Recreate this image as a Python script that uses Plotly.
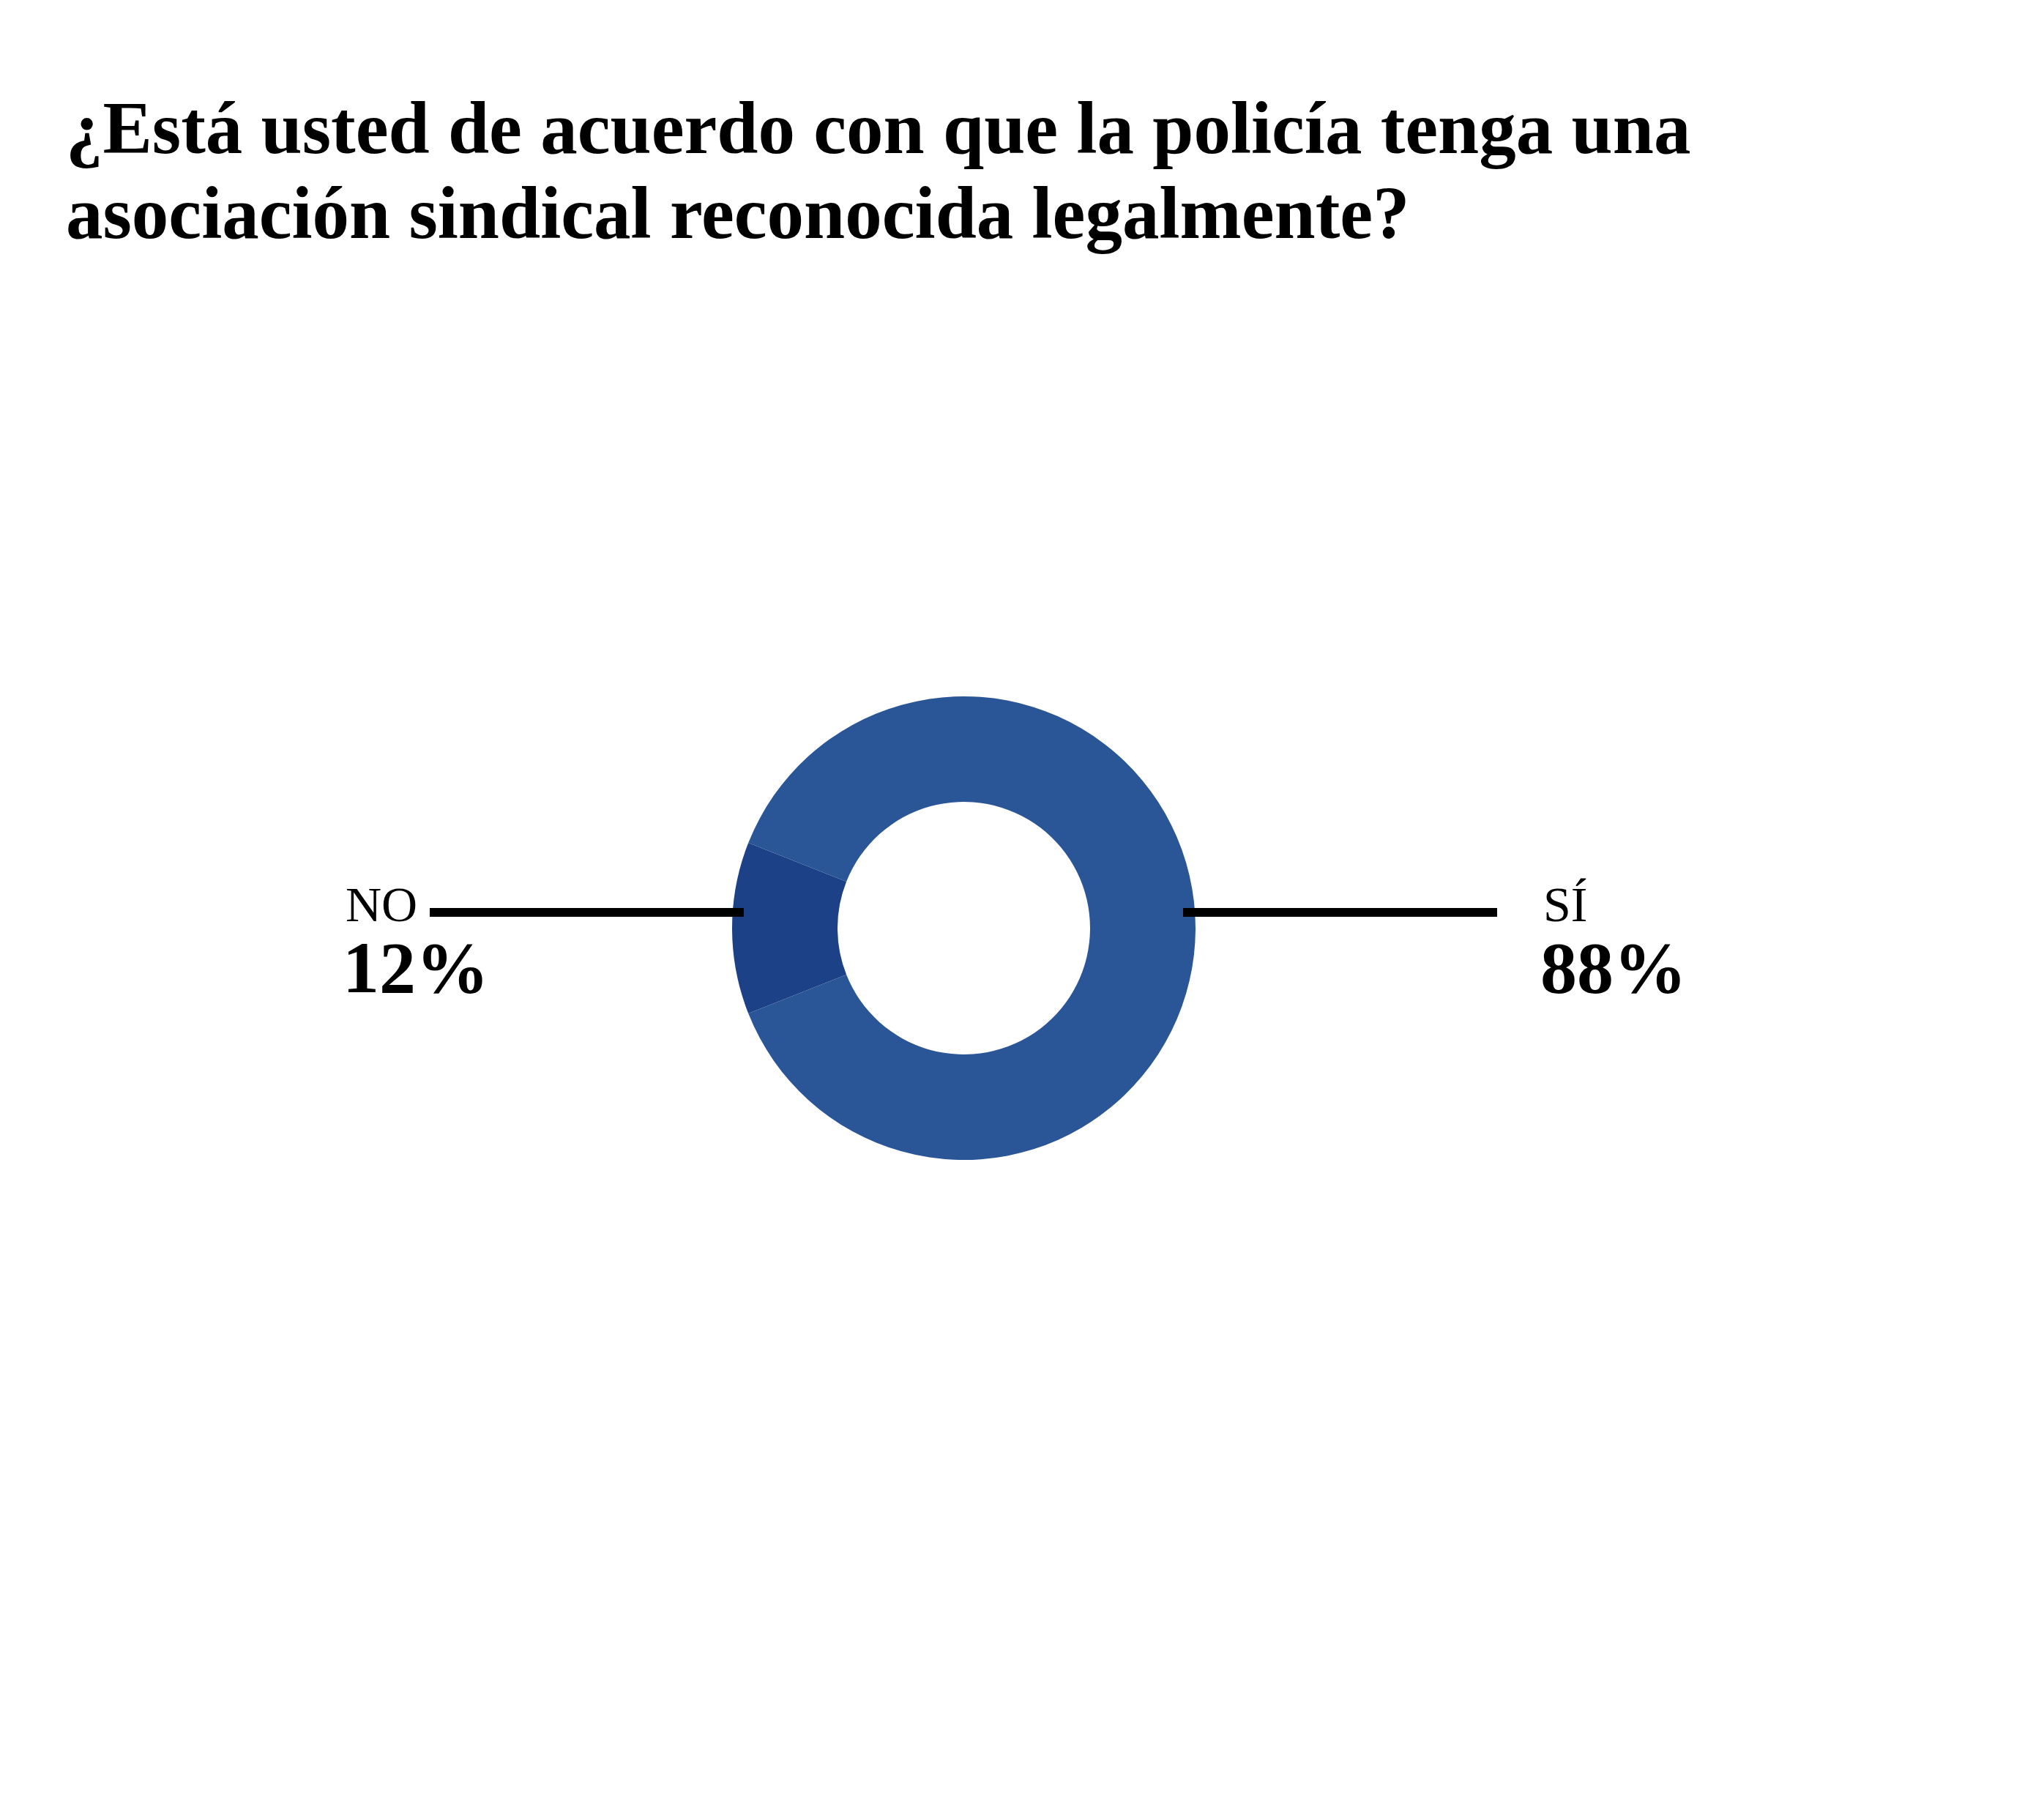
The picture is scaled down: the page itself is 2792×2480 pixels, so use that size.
import plotly.graph_objects as go

# datos de la encuesta
labels = ["NO", "SÍ"]
values = [12, 88]
colors = ["#1c4186", "#2a5698"]
title_lines = ["¿Está usted de acuerdo con que la policía tenga una",
               "asociación sindical reconocida legalmente?"]

W, H = 2792, 2480
OFF = 8  # margen del body de la página

def px(x):
    return (x - OFF) / W

def py(y):
    return 1 - (y - OFF) / H

# el trozo "NO" centrado a la izquierda (9 en punto)
rot = 270 - 360 * values[0] / sum(values) / 2

fig = go.Figure(go.Pie(
    labels=labels,
    values=values,
    marker=dict(colors=colors, line=dict(width=0)),
    hole=0.545,
    sort=False,
    direction="clockwise",
    rotation=rot,
    textinfo="none",
    hoverinfo="label+percent",
    showlegend=False,
    domain=dict(x=[px(1000), px(1633)], y=[py(1584), py(951)]),
))

serif = "Liberation Serif, Times New Roman, serif"

annots = []
for i, line in enumerate(title_lines):
    annots.append(dict(text="<b>%s</b>" % line, x=px(88), y=py(175 + 116 * i),
                       xanchor="left", yanchor="middle", showarrow=False,
                       font=dict(family=serif, size=101, color="#000")))

# etiquetas a los lados
pos = {"NO": 471, "SÍ": 2107}
for lab, val in zip(labels, values):
    annots.append(dict(text=lab, x=px(pos[lab]), y=py(1235), xanchor="left",
                       yanchor="middle", showarrow=False, borderpad=0,
                       font=dict(family=serif, size=68, color="#000")))
    annots.append(dict(text="<b>%d%%</b>" % val, x=px(pos[lab] - 4), y=py(1322),
                       xanchor="left", yanchor="middle", showarrow=False,
                       borderpad=0,
                       font=dict(family=serif, size=100, color="#000")))

shapes = [
    dict(type="line", xref="paper", yref="paper", x0=px(587), x1=px(1016),
         y0=py(1246), y1=py(1246), line=dict(color="#000", width=12)),
    dict(type="line", xref="paper", yref="paper", x0=px(1616), x1=px(2045),
         y0=py(1246), y1=py(1246), line=dict(color="#000", width=12)),
]

fig.update_layout(
    width=W, height=H,
    margin=dict(l=0, r=0, t=0, b=0),
    paper_bgcolor="white",
    plot_bgcolor="white",
    annotations=annots,
    shapes=shapes,
)

fig.write_html("out.html")
